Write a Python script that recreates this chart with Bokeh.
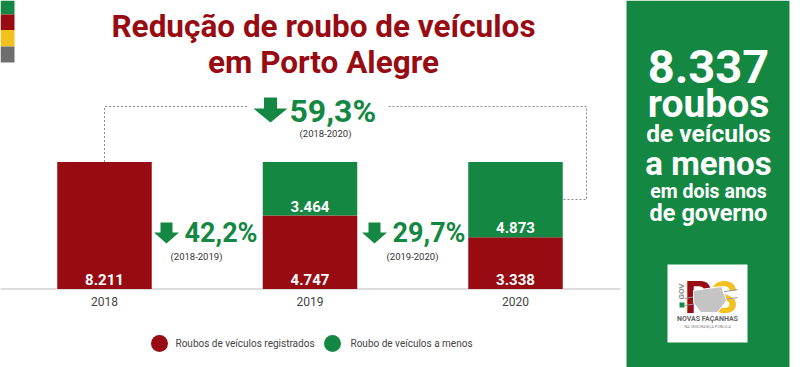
from bokeh.plotting import figure
from bokeh.models import Range1d
from bokeh.core.properties import value
from bokeh.embed import file_html
from bokeh.resources import INLINE
import math

# ---------------- data ----------------
years = ["2018", "2019", "2020"]
registrados = [8211, 4747, 3338]
a_menos = [0, 3464, 4873]
reducoes = ["42,2%", "29,7%", "59,3%"]
periodos = ["(2018-2019)", "(2019-2020)", "(2018-2020)"]
legend_labels = ["Roubos de veículos registrados", "Roubo de veículos a menos"]
title_lines = ["Redução de roubo de veículos", "em Porto Alegre"]
panel_lines = ["8.337", "roubos", "de veículos", "a menos", "em dois anos", "de governo"]

# ---------------- styles / layout ----------------
RED = "#990b12"
GREEN = "#148843"
YELLOW = "#f3c11d"
GRAY = "#6e6e6e"
FONT = value("Roboto")

W, H = 800, 367
CAT_PX = 205.5     # pixels between category centres
FIRST_PX = 104     # x of first category centre
BASE_PX = 288.5    # y of the baseline
BAR_PX = 127       # pixel height of the tallest bar
BAR_W_PX = 94.5

totals = [r + a for r, a in zip(registrados, a_menos)]
K = BAR_PX / max(totals)
idx = list(range(len(years)))


def X(px):
    return (px - FIRST_PX) / CAT_PX


def Y(py):
    return (BASE_PX - py) / K


def YB(baseline, size):
    """y of the text middle for a given pixel baseline"""
    return Y(baseline - 0.36 * size)


def fmt(v):
    return f"{v:,}".replace(",", ".")


p = figure(width=W, height=H, output_backend="svg", toolbar_location=None,
           x_range=Range1d(X(0), X(W)), y_range=Range1d(Y(H), Y(0)),
           x_axis_location=None, y_axis_location=None, min_border=0,
           outline_line_color=None, background_fill_color="white")
p.grid.visible = False

# ---------------- left colour strips ----------------
strip_cols = [GREEN, RED, YELLOW, GRAY]
strip_edges = [0, 14, 29.5, 46, 62]
p.quad(left=[X(0)] * 4, right=[X(14)] * 4,
       top=[Y(v) for v in strip_edges[:-1]], bottom=[Y(v) for v in strip_edges[1:]],
       fill_color=strip_cols, line_color=None)

# ---------------- title ----------------
TS = 31.5
p.text(x=[X(323)] * 2, y=[YB(37, TS), YB(73, TS)], text=title_lines, text_font=FONT,
       text_font_style="bold", text_font_size=f"{TS}px", text_color=RED,
       text_align="center", text_baseline="middle")

# ---------------- baseline ----------------
p.segment(x0=[X(0)], y0=[0], x1=[X(620)], y1=[0], line_color="#d2d2d2", line_width=1.5)

# ---------------- bars ----------------
bw = BAR_W_PX / CAT_PX
p.vbar(x=idx, width=bw, bottom=0, top=registrados, fill_color=RED, line_color=None)
p.vbar(x=idx, width=bw, bottom=registrados, top=totals, fill_color=GREEN, line_color=None)

# bar labels (at the base of each segment)
lab_off = 9.5 / K
lx, ly, lt = [], [], []
for i in idx:
    lx.append(i); ly.append(lab_off); lt.append(fmt(registrados[i]))
    if a_menos[i] > 0:
        lx.append(i); ly.append(registrados[i] + lab_off); lt.append(fmt(a_menos[i]))
p.text(x=lx, y=ly, text=lt, text_font=FONT, text_font_style="bold",
       text_font_size="15px", text_color="white", text_align="center",
       text_baseline="middle")

# year labels
p.text(x=idx, y=[Y(301)] * len(idx), text=years, text_font=FONT,
       text_font_size="12px", text_color="#444444", text_align="center",
       text_baseline="middle")

# ---------------- dotted connector 2018 -> 2020 ----------------
dash = dict(line_color="#8c8c8c", line_width=1, line_dash="2 2")
p.line(x=[0, 0, X(247)], y=[totals[0], Y(106), Y(106)], **dash)
p.line(x=[X(388), X(586), X(586), 2 + bw / 2],
       y=[Y(106), Y(106), Y(199), Y(199)], **dash)


# ---------------- reduction arrows + texts ----------------
def arrow(cx, top, shaft_w, tri_top, tri_w, tip):
    xs = [cx - shaft_w / 2, cx + shaft_w / 2, cx + shaft_w / 2, cx + tri_w / 2,
          cx, cx - tri_w / 2, cx - shaft_w / 2]
    ys = [top, top, tri_top, tri_top, tip, tri_top, tri_top]
    return [X(v) for v in xs], [Y(v) for v in ys]


blocks = [  # arrow cx, shaft top, shaft w, tri top, tri w, tip, text left, baseline, size, sub cx, sub cy
    (166, 222, 12, 232, 25, 243, 184, 242, 27, 196, 256),
    (374, 222, 12, 232, 25, 243, 392, 242, 27, 412, 256),
    (270, 97, 13, 108, 34, 122, 289, 122, 32, 325, 133),
]
for k, b in enumerate(blocks):
    ax, ay = arrow(*b[:6])
    p.patch(ax, ay, fill_color=GREEN, line_color=None)
    p.text(x=[X(b[6])], y=[YB(b[7], b[8])], text=[reducoes[k]], text_font=FONT,
           text_font_style="bold", text_font_size=f"{b[8]}px", text_color=GREEN,
           text_align="left", text_baseline="middle")
    p.text(x=[X(b[9])], y=[Y(b[10])], text=[periodos[k]], text_font=FONT,
           text_font_size="9.5px", text_color="#333333", text_align="center",
           text_baseline="middle")

# ---------------- legend ----------------
p.scatter(x=[X(159), X(332)], y=[Y(343)] * 2, size=17, fill_color=[RED, GREEN],
          line_color=None)
p.text(x=[X(175), X(350)], y=[Y(343)] * 2, text=legend_labels, text_font=FONT,
       text_font_size="10px", text_color="#444444", text_align="left",
       text_baseline="middle")

# ---------------- right green panel ----------------
p.quad(left=[X(626)], right=[X(789)], top=[Y(0)], bottom=[Y(367)],
       fill_color=GREEN, line_color=None)
panel_base = [83, 118, 142, 175, 198, 221]
panel_size = [47, 39, 24.5, 33, 19.5, 23.5]
for t, b, s in zip(panel_lines, panel_base, panel_size):
    p.text(x=[X(708)], y=[YB(b, s)], text=[t], text_font=FONT, text_font_style="bold",
           text_font_size=f"{s}px", text_color="white", text_align="center",
           text_baseline="middle")

# logo
p.quad(left=[X(667)], right=[X(747)], top=[Y(264)], bottom=[Y(342)],
       fill_color="white", line_color=None)
p.text(x=[X(681)], y=[Y(291)], text=["GOV"], angle=math.pi / 2, text_font=FONT,
       text_font_style="bold", text_font_size="8px", text_color="#8a8a8a",
       text_align="center", text_baseline="middle")
p.quad(left=[X(679)], right=[X(684)], top=[Y(302)], bottom=[Y(307)],
       fill_color=GREEN, line_color=None)
LS = 44
p.text(x=[X(684)], y=[YB(313, LS)], text=["R"], text_font=FONT, text_font_style="bold",
       text_font_size=f"{LS}px", text_color=RED, text_align="left",
       text_baseline="middle")
p.text(x=[X(710)], y=[YB(313, LS)], text=["S"], text_font=FONT, text_font_style="bold",
       text_font_size=f"{LS}px", text_color=YELLOW, text_align="left",
       text_baseline="middle")
p.line(x=[X(684), X(737)], y=[Y(298), Y(289)], line_color="#9a9a9a", line_width=1)
p.line(x=[X(684), X(737)], y=[Y(305), Y(297)], line_color="#9a9a9a", line_width=1)
mx = [693, 721, 726, 717, 700, 693]
my = [290, 286, 300, 312, 312, 302]
p.patch([X(v) for v in mx], [Y(v) for v in my], fill_color="#c4c4c4",
        line_color="white", line_width=1)
p.text(x=[X(707)], y=[Y(318)], text=["NOVAS FAÇANHAS"], text_font=FONT,
       text_font_style="bold", text_font_size="7px", text_color="#666666",
       text_align="center", text_baseline="middle")
p.text(x=[X(707)], y=[Y(326)], text=["NA SEGURANÇA PÚBLICA"], text_font=FONT,
       text_font_size="4px", text_color="#888888", text_align="center",
       text_baseline="middle")

open("out.html", "w").write(file_html(p, INLINE))
